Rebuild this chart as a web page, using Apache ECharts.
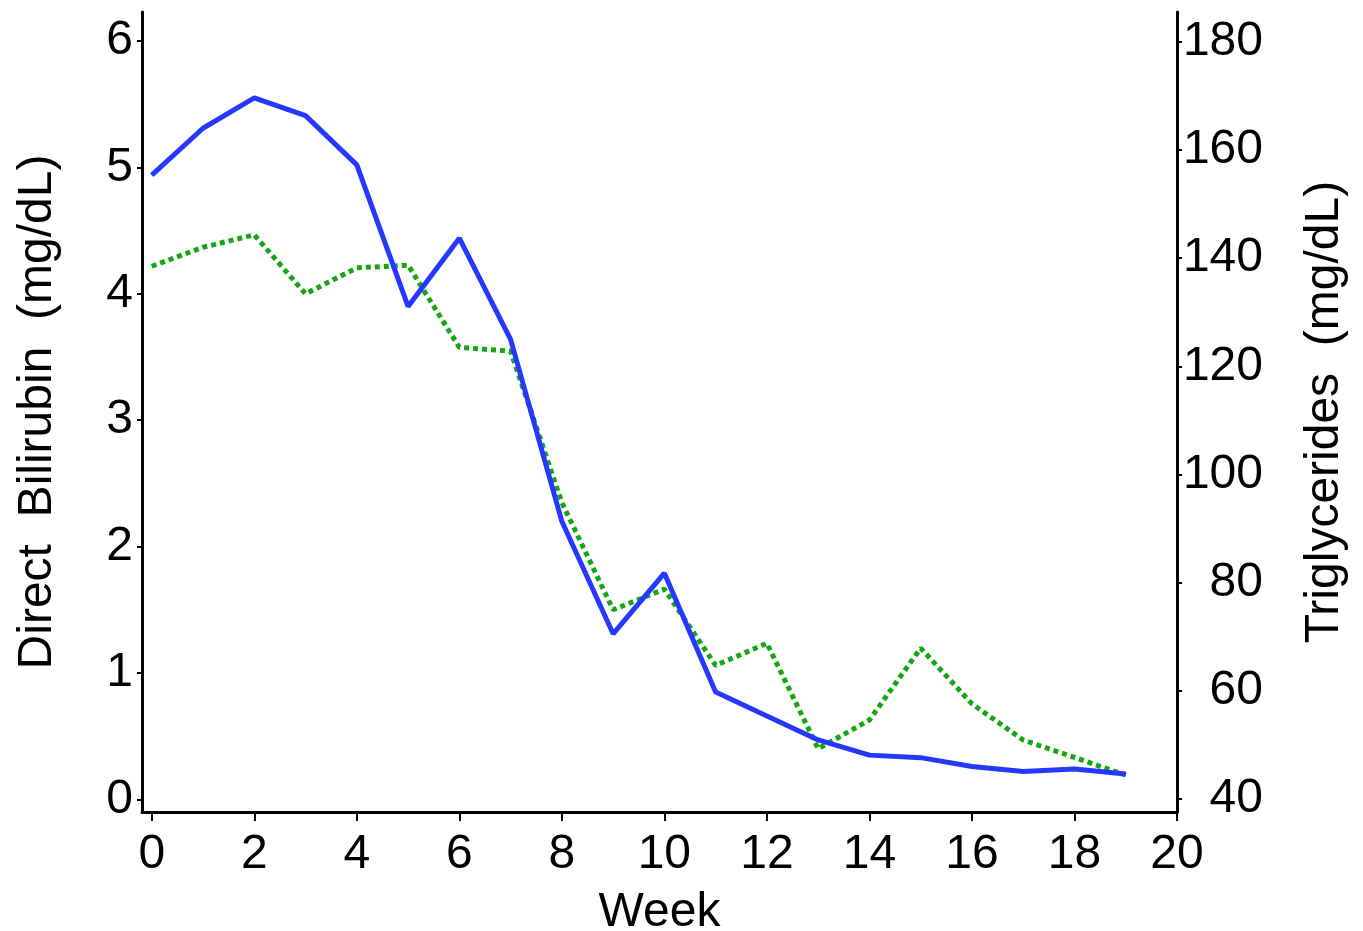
<!DOCTYPE html>
<html>
<head>
    <meta charset="utf-8"/>
    <style>
        html,body { height:100%; width:100%; margin:0; padding:0; background:#fff; }
        #chart { width:1363px; height:931px; }
    </style>
</head>
<body>
<div id="chart"></div>

<script src="https://cdn.jsdelivr.net/npm/echarts@6/dist/echarts.min.js"></script>
<script type="text/javascript">

 // data
 var weeks = [0, 1, 2, 3, 4, 5, 6, 7, 8, 9, 10, 11, 12, 13, 14, 15, 16, 17, 18, 19];
 var bilirubin = [4.94, 5.31, 5.55, 5.41, 5.02, 3.90, 4.44, 3.64, 2.20, 1.31, 1.79, 0.85, 0.66, 0.47, 0.35, 0.33, 0.26, 0.22, 0.24, 0.20];
 var triglycerides = [138.5, 142.0, 144.3, 133.4, 138.2, 138.7, 123.5, 122.8, 94.8, 75.0, 78.8, 64.7, 68.8, 49.3, 54.6, 67.9, 57.6, 50.9, 47.7, 44.4];

 var weekTicks = [0, 2, 4, 6, 8, 10, 12, 14, 16, 18, 20];
 var leftTicks = [0, 1, 2, 3, 4, 5, 6];
 var rightTicks = [40, 60, 80, 100, 120, 140, 160, 180];

 var font = 'Liberation Sans, Arial, sans-serif';

 function pairs(xs, ys) {
     return xs.map(function (x, i) { return [x, ys[i]]; });
 }

 var myChart = echarts.init(document.getElementById('chart'));

 var option = {
     animation: false,
     backgroundColor: '#ffffff',
     grid: {
         left: 142,
         right: 186,
         top: 12,
         bottom: 119,
         containLabel: false,
         outerBoundsMode: 'none'
     },
     xAxis: {
         type: 'value',
         min: -0.19,
         max: 20,
         name: 'Week',
         nameLocation: 'middle',
         nameGap: 77,
         nameTextStyle: { color: '#000', fontSize: 48, fontFamily: font },
         axisLine: { onZero: false, lineStyle: { color: '#000', width: 3 } },
         axisTick: { customValues: weekTicks, length: 9, lineStyle: { color: '#000', width: 2 } },
         axisLabel: { customValues: weekTicks, margin: 19, color: '#000', fontSize: 48, fontFamily: font },
         splitLine: { show: false }
     },
     yAxis: [
         {
             type: 'value',
             position: 'left',
             min: -0.1,
             max: 6.23,
             name: 'Direct  Bilirubin  (mg/dL)',
             nameLocation: 'middle',
             nameGap: 80,
             nameTextStyle: { color: '#000', fontSize: 48, fontFamily: font },
             axisLine: { show: true, onZero: false, lineStyle: { color: '#000', width: 3 } },
             axisTick: { show: true, customValues: leftTicks, length: 5, lineStyle: { color: '#000', width: 2 } },
             axisLabel: { customValues: leftTicks, margin: 9, color: '#000', fontSize: 48, fontFamily: font },
             splitLine: { show: false }
         },
         {
             type: 'value',
             position: 'right',
             min: 37.6,
             max: 185.5,
             name: 'Triglycerides  (mg/dL)',
             nameLocation: 'middle',
             nameGap: 124,
             nameTextStyle: { color: '#000', fontSize: 48, fontFamily: font },
             axisLine: { show: true, onZero: false, lineStyle: { color: '#000', width: 3 } },
             axisTick: { show: true, customValues: rightTicks, length: 5, lineStyle: { color: '#000', width: 2 } },
             axisLabel: { customValues: rightTicks, margin: 86, align: 'right', color: '#000', fontSize: 48, fontFamily: font },
             splitLine: { show: false }
         }
     ],
     series: [
         {
             name: 'Direct Bilirubin',
             type: 'line',
             yAxisIndex: 0,
             data: pairs(weeks, bilirubin),
             showSymbol: false,
             lineStyle: { color: '#2438ff', width: 5 },
             z: 3
         },
         {
             name: 'Triglycerides',
             type: 'line',
             yAxisIndex: 1,
             data: pairs(weeks, triglycerides),
             showSymbol: false,
             lineStyle: { color: '#14a614', width: 5, type: [5, 4] },
             z: 2
         }
     ]
 };

 myChart.setOption(option);

</script>
</body>
</html>
